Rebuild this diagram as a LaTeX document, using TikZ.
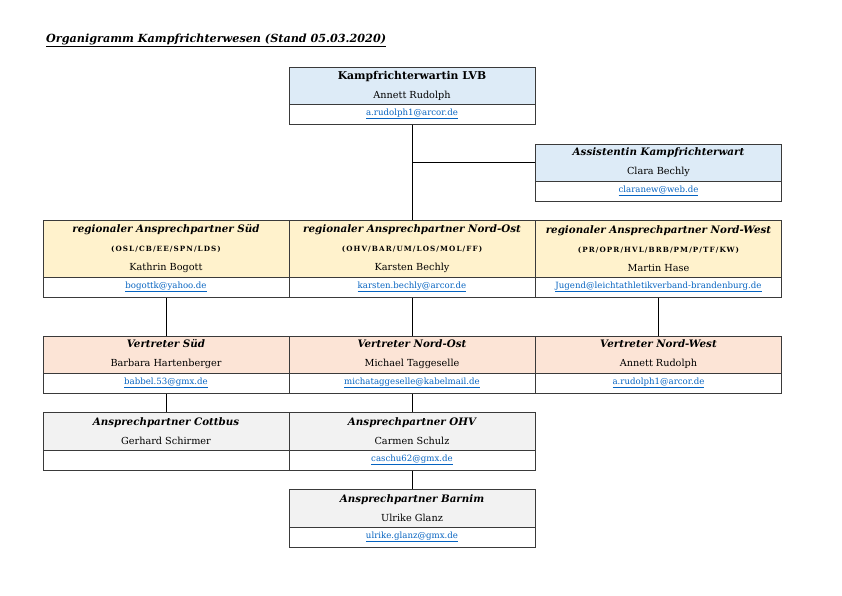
\documentclass[tikz,border=0pt]{standalone}
\usepackage{fontspec}
\setmainfont{DejaVu Serif}
\definecolor{hblue}{HTML}{DDEBF7}
\definecolor{hyel}{HTML}{FFF2CC}
\definecolor{hpeach}{HTML}{FCE4D6}
\definecolor{hgray}{HTML}{F2F2F2}
\definecolor{bord}{HTML}{3A3A3A}
\definecolor{linkc}{HTML}{0563C1}
\newcommand{\lnk}[1]{\raisebox{-1pt}{\fontsize{8.6}{10}\selectfont\textcolor{linkc}{\underline{#1}}}}
\newcommand{\hbi}[1]{{\fontsize{10.3}{19}\selectfont\bfseries\itshape #1}}
\newcommand{\hbu}[1]{{\fontsize{10.8}{19}\selectfont\bfseries #1}}
\newcommand{\nm}[1]{{\fontsize{9.7}{19}\selectfont #1}}
\newcommand{\sbl}[1]{{\fontsize{7.2}{19}\selectfont\addfontfeatures{LetterSpace=15}\bfseries #1}}
\begin{document}
\begin{tikzpicture}[x=1pt,y=-1pt,
  box/.style={draw=bord, line width=1pt, minimum width=246pt, inner sep=0pt, align=center,
     font=\fontsize{9.7}{19}\selectfont},
  hdr2/.style={box, minimum height=37pt},
  hdr3/.style={box, minimum height=57pt},
  mail/.style={box, minimum height=20pt, fill=white, font=\fontsize{8.6}{10}\selectfont},
  conn/.style={draw=black, line width=0.8pt}
]
\useasboundingbox (0,0) rectangle (842,595);
% title
\node[anchor=base west, inner sep=0pt, font=\fontsize{11.2}{13}\selectfont\bfseries\itshape] (title) at (46,42) {\underline{Organigramm Kampfrichterwesen (Stand 05.03.2020)}};
% top
\node[hdr2, fill=hblue] (top) at (412,85.5) {\hbu{Kampfrichterwartin LVB}\\\nm{Annett Rudolph}};
\node[mail] (topm) at (412,114) {\lnk{a.rudolph1@arcor.de}};
% assistant
\node[hdr2, fill=hblue] (as) at (658.5,162.5) {\hbi{Assistentin Kampfrichterwart}\\\nm{Clara Bechly}};
\node[mail] (asm) at (658.5,191) {\lnk{claranew@web.de}};
% regional
\node[hdr3, fill=hyel] (ra) at (166,248.5) {\hbi{regionaler Ansprechpartner Süd}\\\sbl{(OSL/CB/EE/SPN/LDS)}\\\nm{Kathrin Bogott}};
\node[mail] (ram) at (166,287) {\lnk{bogottk@yahoo.de}};
\node[hdr3, fill=hyel] (rb) at (412,248.5) {\hbi{regionaler Ansprechpartner Nord-Ost}\\\sbl{(OHV/BAR/UM/LOS/MOL/FF)}\\\nm{Karsten Bechly}};
\node[mail] (rbm) at (412,287) {\lnk{karsten.bechly@arcor.de}};
\node[hdr3, fill=hyel] (rc) at (658.5,248.5) {\hbi{regionaler Ansprechpartner Nord-West}\\\sbl{(PR/OPR/HVL/BRB/PM/P/TF/KW)}\\\nm{Martin Hase}};
\node[mail] (rcm) at (658.5,287) {\lnk{Jugend@leichtathletikverband-brandenburg.de}};
% vertreter
\node[hdr2, fill=hpeach] (va) at (166,354.5) {\hbi{Vertreter Süd}\\\nm{Barbara Hartenberger}};
\node[mail] (vam) at (166,383) {\lnk{babbel.53@gmx.de}};
\node[hdr2, fill=hpeach] (vb) at (412,354.5) {\hbi{Vertreter Nord-Ost}\\\nm{Michael Taggeselle}};
\node[mail] (vbm) at (412,383) {\lnk{michataggeselle@kabelmail.de}};
\node[hdr2, fill=hpeach] (vc) at (658.5,354.5) {\hbi{Vertreter Nord-West}\\\nm{Annett Rudolph}};
\node[mail] (vcm) at (658.5,383) {\lnk{a.rudolph1@arcor.de}};
% ansprechpartner
\node[hdr2, minimum height=38pt, fill=hgray] (aa) at (166,431) {\hbi{Ansprechpartner Cottbus}\\\nm{Gerhard Schirmer}};
\node[mail] (aam) at (166,460) {};
\node[hdr2, minimum height=38pt, fill=hgray] (ab) at (412,431) {\hbi{Ansprechpartner OHV}\\\nm{Carmen Schulz}};
\node[mail] (abm) at (412,460) {\lnk{caschu62@gmx.de}};
\node[hdr2, minimum height=38pt, fill=hgray] (bar) at (412,508) {\hbi{Ansprechpartner Barnim}\\\nm{Ulrike Glanz}};
\node[mail] (barm) at (412,537) {\lnk{ulrike.glanz@gmx.de}};
% connectors
\draw[conn] (topm.south) -- (rb.north);
\draw[conn] (as.west) -- (as.west -| topm.south);
\draw[conn] (ram.south) -- (va.north);
\draw[conn] (rbm.south) -- (vb.north);
\draw[conn] (rcm.south) -- (vc.north);
\draw[conn] (vam.south) -- (aa.north);
\draw[conn] (vbm.south) -- (ab.north);
\draw[conn] (abm.south) -- (bar.north);
\end{tikzpicture}
\end{document}
